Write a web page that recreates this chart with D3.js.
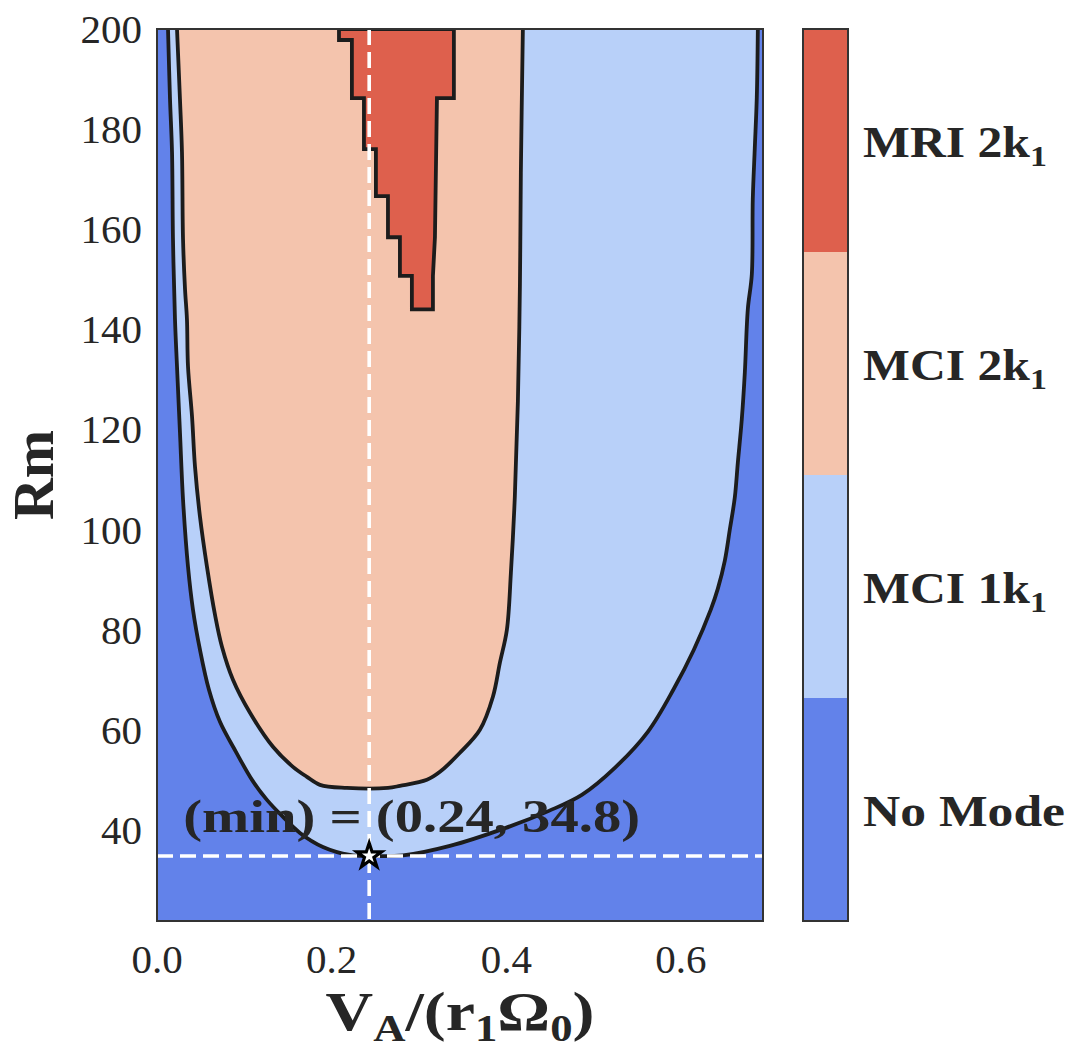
<!DOCTYPE html>
<html>
<head>
<meta charset="utf-8">
<script src="https://cdn.jsdelivr.net/npm/d3@7"></script>
<style>
  body { margin: 0; background: #fff; }
  text { font-family: "Liberation Serif", "Times New Roman", serif; fill: #262626; }
</style>
</head>
<body>
<div id="chart"></div>
<script>
// colour bar categories, bottom to top
const modeNames = ["No Mode", "MCI 1k", "MCI 2k", "MRI 2k"];
const modeSubs = ["", "1", "1", "1"];
const modeColors = ["#6282ea", "#b8d0f9", "#f4c4ad", "#de604d"];

const xTicks = [0.0, 0.2, 0.4, 0.6];
const yTicks = [40, 60, 80, 100, 120, 140, 160, 180, 200];

// outer contour (No Mode | MCI 1k1), left branch down through the minimum and up the right branch
const outerV = [0.0126, 0.0149, 0.0172, 0.0183, 0.0206, 0.0229, 0.0263, 0.0298, 0.0355, 0.0412, 0.0492,
  0.0595, 0.0721, 0.0904, 0.1088, 0.1259, 0.1443, 0.1637, 0.1900, 0.2209, 0.2430,
  0.2816, 0.3354, 0.3995, 0.4488, 0.4865, 0.5243, 0.5621, 0.5919, 0.6148, 0.6342, 0.6423, 0.6503,
  0.6560, 0.6617, 0.6652, 0.6697, 0.6732, 0.6766, 0.6812, 0.6823, 0.6846, 0.6869, 0.6881];
const outerRm = [200, 186, 175.4, 158, 142, 132.6, 119.4, 106, 92.6, 84, 76,
  68, 61.6, 55.6, 50, 46, 42.6, 39.4, 36.6, 35, 34.8,
  34.9, 36.8, 40.4, 43.8, 47, 52.4, 59.6, 68.2, 76, 84, 88.2, 93.8,
  100, 106.4, 113.4, 122, 131.4, 144, 151, 166, 176.2, 186.4, 200];

// inner contour (MCI 1k1 | MCI 2k1)
const innerV = [0.0229, 0.0263, 0.0286, 0.0298, 0.0321, 0.0343, 0.0355, 0.0401, 0.0435, 0.0492, 0.0572,
  0.0664, 0.0744, 0.0870, 0.1065, 0.1328, 0.1557, 0.1717, 0.1866, 0.2175, 0.2645, 0.2782,
  0.3091, 0.3240, 0.3469, 0.3698, 0.3847, 0.3927, 0.4007, 0.4053, 0.4098, 0.4133, 0.4156, 0.4167, 0.4190];
const innerRm = [200, 186, 175.4, 158, 148, 142, 132.6, 122.6, 112.6, 102.6, 92.6,
  83, 76.6, 70, 63.4, 56.6, 52.6, 50.6, 49, 48.4, 48.4, 48.8,
  50, 51.6, 55.4, 60, 66.6, 73.4, 80, 91.4, 106.6, 125.6, 148.6, 171.4, 200];

// MRI 2k1 region outline (grid steps)
const mriV = [0.2084, 0.2084, 0.2232, 0.2232, 0.2370, 0.2370, 0.2507, 0.2507, 0.2645, 0.2645,
  0.2782, 0.2782, 0.2919, 0.2919, 0.3160, 0.3160, 0.3183, 0.3206, 0.3400, 0.3400];
const mriRm = [200, 197.8, 197.8, 186.2, 186.2, 176, 176, 166.6, 166.6, 158.4,
  158.4, 150.7, 150.7, 144, 144, 150.7, 158.4, 186.2, 186.2, 200];

// critical point
const minV = 0.243;
const minRm = 34.8;
const minLabel = "(min) = (" + minV.toFixed(2) + ", " + minRm.toFixed(1) + ")";

const width = 1080, height = 1061;
const plot = { left: 157, right: 763, top: 29, bottom: 921 };

const svg = d3.select("#chart").append("svg")
  .attr("width", width)
  .attr("height", height);

const x = d3.scaleLinear().domain([0, 0.694]).range([plot.left, plot.right]);
const y = d3.scaleLinear().domain([21.8, 200]).range([plot.bottom, plot.top]);

svg.append("clipPath").attr("id", "clip")
  .append("rect")
  .attr("x", plot.left).attr("y", plot.top)
  .attr("width", plot.right - plot.left).attr("height", plot.bottom - plot.top);

const area = svg.append("g").attr("clip-path", "url(#clip)");

function toPoints(vs, rms) {
  return vs.map((v, i) => ({ v: v, rm: rms[i] }));
}

const smooth = d3.line().x(d => x(d.v)).y(d => y(d.rm)).curve(d3.curveCatmullRom.alpha(0.5));
const straight = d3.line().x(d => x(d.v)).y(d => y(d.rm));

const outerPts = toPoints(outerV, outerRm);
const innerPts = toPoints(innerV, innerRm);
const mriPts = toPoints(mriV, mriRm);

// filled regions
area.append("rect")
  .attr("x", plot.left).attr("y", plot.top)
  .attr("width", plot.right - plot.left).attr("height", plot.bottom - plot.top)
  .attr("fill", modeColors[0]);

area.append("path").attr("d", smooth(outerPts) + "Z").attr("fill", modeColors[1]);
area.append("path").attr("d", smooth(innerPts) + "Z").attr("fill", modeColors[2]);
area.append("path").attr("d", straight(mriPts) + "Z").attr("fill", modeColors[3]);

// contour lines
const lineStyle = sel => sel.attr("fill", "none")
  .attr("stroke", "#1c1c1c")
  .attr("stroke-width", 3.8)
  .attr("stroke-linejoin", "miter");

area.append("path").attr("d", smooth(outerPts)).call(lineStyle);
area.append("path").attr("d", smooth(innerPts)).call(lineStyle);
area.append("path").attr("d", straight(mriPts) + "Z").call(lineStyle);

// dashed guides through the minimum
area.append("line")
  .attr("x1", x(minV)).attr("x2", x(minV))
  .attr("y1", plot.top).attr("y2", plot.bottom)
  .attr("stroke", "#fff").attr("stroke-width", 3.6)
  .attr("stroke-dasharray", "16,7");

area.append("line")
  .attr("x1", plot.left).attr("x2", plot.right)
  .attr("y1", y(minRm)).attr("y2", y(minRm))
  .attr("stroke", "#fff").attr("stroke-width", 3.6)
  .attr("stroke-dasharray", "16,7");

area.append("path")
  .attr("d", d3.symbol(d3.symbolStar).size(190)())
  .attr("transform", `translate(${x(minV)},${y(minRm)})`)
  .attr("fill", "#fff")
  .attr("stroke", "#000")
  .attr("stroke-width", 3.2);

// stretch bold text a little so it looks like the wide TeX bold face
function stretch(g, target) {
  const w = g.node().getBBox().width;
  const t = g.select("text");
  const s = target / w;
  t.attr("transform", `scale(${s},1)`);
}

const ann = svg.append("g").attr("transform", `translate(${x(0.03)},${y(39.6)})`);
ann.append("text")
  .attr("font-size", 46)
  .attr("font-weight", "bold")
  .attr("fill", "#1c1c1c")
  .text(minLabel);
stretch(ann, 457);

// frame
svg.append("rect")
  .attr("x", plot.left).attr("y", plot.top)
  .attr("width", plot.right - plot.left).attr("height", plot.bottom - plot.top)
  .attr("fill", "none").attr("stroke", "#333").attr("stroke-width", 2);

// tick labels (no tick marks)
svg.append("g").selectAll("text")
  .data(xTicks)
  .join("text")
  .attr("x", d => x(d))
  .attr("y", 973)
  .attr("text-anchor", "middle")
  .attr("font-size", 41)
  .text(d => d.toFixed(1));

svg.append("g").selectAll("text")
  .data(yTicks)
  .join("text")
  .attr("x", 142)
  .attr("y", d => y(d))
  .attr("dy", "0.34em")
  .attr("text-anchor", "end")
  .attr("font-size", 41)
  .text(d => d);

// axis titles
const xt = svg.append("g").attr("transform", "translate(460,1030)");
const xText = xt.append("text").attr("font-weight", "bold").attr("font-size", 56).attr("text-anchor", "middle");
xText.append("tspan").text("V");
xText.append("tspan").attr("font-size", 38).attr("dy", 11).text("A");
xText.append("tspan").attr("dy", -11).text("/(r");
xText.append("tspan").attr("font-size", 38).attr("dy", 11).text("1");
xText.append("tspan").attr("dy", -11).text("Ω");
xText.append("tspan").attr("font-size", 38).attr("dy", 11).text("0");
xText.append("tspan").attr("dy", -11).text(")");
stretch(xt, 269);

svg.append("text")
  .attr("transform", `translate(53,${(plot.top + plot.bottom) / 2}) rotate(-90)`)
  .attr("text-anchor", "middle")
  .attr("font-weight", "bold")
  .attr("font-size", 58)
  .text("Rm");

// colour bar
const cb = { left: 803, right: 848 };
const cbY = d3.scaleLinear().domain([0, modeNames.length]).range([plot.bottom, plot.top]);

svg.append("g").selectAll("rect")
  .data(modeColors)
  .join("rect")
  .attr("x", cb.left)
  .attr("y", (d, i) => cbY(i + 1))
  .attr("width", cb.right - cb.left)
  .attr("height", (d, i) => cbY(i) - cbY(i + 1))
  .attr("fill", d => d);

svg.append("rect")
  .attr("x", cb.left).attr("y", plot.top)
  .attr("width", cb.right - cb.left).attr("height", plot.bottom - plot.top)
  .attr("fill", "none").attr("stroke", "#333").attr("stroke-width", 2);

modeNames.forEach((name, i) => {
  const g = svg.append("g").attr("transform", `translate(863,${cbY(i + 0.5) + 16})`);
  const t = g.append("text").attr("font-weight", "bold").attr("font-size", 44);
  t.append("tspan").text(name);
  if (modeSubs[i]) t.append("tspan").attr("font-size", 30).attr("dy", 9).text(modeSubs[i]);
  stretch(g, modeSubs[i] ? 184 : 202);
});
</script>
</body>
</html>
